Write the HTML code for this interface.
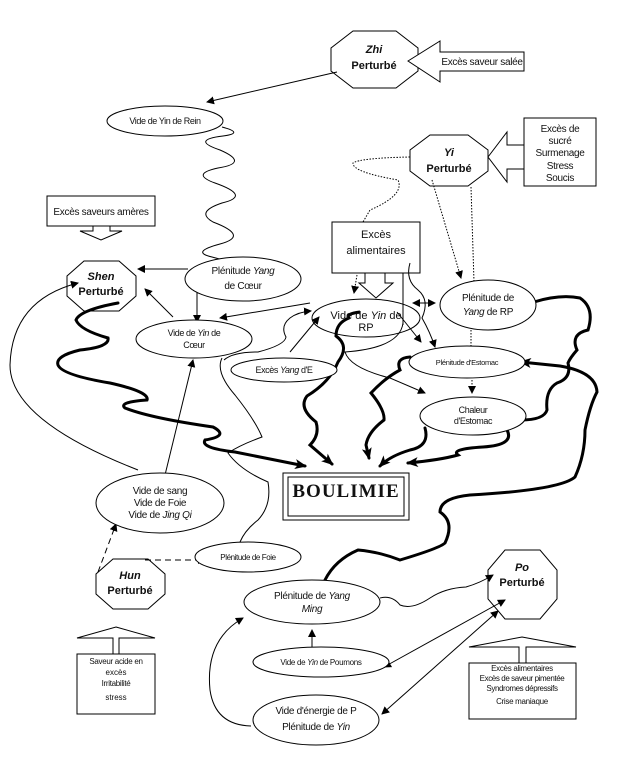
<!DOCTYPE html>
<html><head><meta charset="utf-8"><style>
html,body{margin:0;padding:0;background:#fff;}
svg{display:block;}
text{font-family:"Liberation Sans",sans-serif;fill:#111;}
.s{font-size:9px;letter-spacing:-0.4px;}
.m{font-size:10px;letter-spacing:-0.3px;}
.b{font-size:11px;font-weight:bold;}
</style></head><body>
<svg width="622" height="777" viewBox="0 0 622 777" xmlns="http://www.w3.org/2000/svg">
<defs>
<marker id="a" markerWidth="8" markerHeight="8" refX="7" refY="4" orient="auto" markerUnits="userSpaceOnUse"><path d="M0,0 L8,4 L0,8 Z" fill="#000"/></marker>
<marker id="as" markerWidth="8" markerHeight="8" refX="1" refY="4" orient="auto" markerUnits="userSpaceOnUse"><path d="M8,0 L0,4 L8,8 Z" fill="#000"/></marker>
<marker id="A" markerWidth="12" markerHeight="10" refX="10" refY="5" orient="auto" markerUnits="userSpaceOnUse"><path d="M0,0 L12,5 L0,10 L3,5 Z" fill="#000"/></marker>
</defs>
<g fill="#fff" stroke="#000" stroke-width="1">
<!-- octagons -->
<polygon points="353,31 396,31 418,48 418,71 396,88 353,88 331,71 331,48"/>
<polygon points="430,135 468,135 488,150 488,171 468,186 430,186 410,171 410,150"/>
<polygon points="84,261 119,261 136,276 136,296 119,311 84,311 67,296 67,276"/>
<polygon points="113,559 148,559 165,574 165,594 148,609 113,609 96,594 96,574"/>
<polygon points="505,550 540,550 557,570 557,599 540,619 505,619 488,599 488,570"/>
<!-- block arrows and boxes -->
<polygon points="408,61 440,41 440,52 524,52 524,71 440,71 440,82"/>
<rect x="524" y="118" width="72" height="68"/>
<polygon points="488,157 507,132 507,145 524,145 524,169 507,169 507,182"/>
<rect x="47" y="196" width="108" height="30"/>
<polygon points="93,226 110,226 110,231 122,231 101,240 80,231 93,231"/>
<rect x="332" y="222" width="88" height="51"/>
<polygon points="365,273 385,273 385,283 393,283 376,298 359,283 365,283"/>
<polygon points="116,627 155,638 119,638 119,654 113,654 113,638 77,638"/>
<rect x="77" y="654" width="78" height="60"/>
<polygon points="522,637 576,647 526,647 526,663 519,663 519,647 469,647"/>
<rect x="469" y="663" width="107" height="56"/>
<rect x="283" y="473" width="126" height="47"/>
<rect x="288" y="477" width="116" height="39"/>
</g>
<!-- thin connectors -->
<g fill="none" stroke="#000" stroke-width="1">
<line x1="337" y1="72" x2="207" y2="102" marker-end="url(#a)"/>
<path d="M222,127 Q245,133 223,136 Q190,140 220,150 Q250,163 218,168 Q190,174 215,183 Q252,196 222,203 Q195,212 213,222 Q250,236 220,244 Q190,252 212,257 L242,265" marker-end="url(#a)"/>
<line x1="188" y1="269" x2="138" y2="269" marker-end="url(#a)"/>
<line x1="173" y1="317" x2="145" y2="289" marker-end="url(#a)"/>
<line x1="197" y1="284" x2="197" y2="322" marker-start="url(#as)" marker-end="url(#a)"/>
<line x1="310" y1="303" x2="220" y2="318" marker-end="url(#a)"/>
<path d="M224,360 Q233,352 258,352 Q285,345 286,337 Q280,326 290,318 Q298,312 311,311" marker-end="url(#a)"/>
<path d="M222,358 Q215,372 235,395 Q255,420 262,437 Q240,445 228,453 Q240,470 268,482 Q272,505 258,520 Q245,530 240,542"/>
<path d="M138,470 Q10,420 10,365 Q12,300 78,283" marker-end="url(#a)"/>
<line x1="165" y1="475" x2="193" y2="360" marker-end="url(#a)"/>
<line x1="290" y1="352" x2="319" y2="317" marker-end="url(#a)"/>
<line x1="397" y1="312" x2="421" y2="342" marker-end="url(#a)"/>
<line x1="403" y1="273" x2="403" y2="325"/>
<path d="M403,323 Q400,348 345,352 Q350,368 390,378 L425,393" marker-end="url(#a)"/>
<path d="M410,263 Q405,280 418,290 Q430,300 422,318 Q430,332 435,347" marker-end="url(#a)"/>
<line x1="413" y1="303" x2="435" y2="303" marker-start="url(#as)" marker-end="url(#a)"/>
<line x1="312" y1="651" x2="312" y2="630" marker-end="url(#a)"/>
<path d="M251,726 Q215,725 210,690 Q205,640 243,618" marker-end="url(#a)"/>
<path d="M380,598 Q392,595 400,605 Q412,610 430,598 Q445,588 466,587 Q480,583 493,575" marker-end="url(#a)"/>
<line x1="505" y1="600" x2="384" y2="667" marker-start="url(#as)" marker-end="url(#a)"/>
<line x1="498" y1="611" x2="382" y2="714" marker-start="url(#as)" marker-end="url(#a)"/>
</g>
<g fill="none" stroke="#000" stroke-width="1" stroke-dasharray="1.5,1.5">
<path d="M410,157 Q360,158 353,163 Q352,172 398,180 Q405,195 370,210 L363,222"/>
<line x1="432" y1="180" x2="461" y2="278" marker-end="url(#a)"/>
<line x1="471" y1="187" x2="474" y2="282"/>
<line x1="357" y1="275" x2="354" y2="293" marker-end="url(#a)"/>
<line x1="471" y1="330" x2="471" y2="348"/>
<line x1="472" y1="380" x2="472" y2="393" marker-end="url(#a)"/>
</g>
<g fill="none" stroke="#000" stroke-width="1" stroke-dasharray="6,4">
<line x1="98" y1="572" x2="116" y2="524" marker-end="url(#a)"/>
<line x1="145" y1="560" x2="205" y2="560" marker-end="url(#a)"/>
</g>
<!-- thick wavy -->
<g fill="none" stroke="#000" stroke-width="3" stroke-linecap="round">
<path d="M118,303 Q80,310 76,320 Q80,330 108,338 Q110,347 80,350 Q55,356 58,365 Q62,375 110,383 Q150,392 147,400 Q118,402 125,408 Q150,418 213,427 Q230,436 205,440 Q200,448 235,452 L305,466" marker-end="url(#A)"/>
<path d="M349,318 Q336,323 336,336 Q350,346 338,362 Q330,382 307,396 Q298,408 316,422 Q320,435 310,445 L332,464" marker-end="url(#A)"/>
<path d="M410,357 Q395,358 400,370 Q385,378 371,393 Q385,410 384,420 Q368,432 366,445 L369,458" marker-end="url(#A)"/>
<path d="M425,428 Q430,446 410,450 Q390,456 380,466" marker-end="url(#A)"/>
<path d="M507,430 Q515,445 483,447 Q450,449 458,455 Q440,460 408,463" marker-end="url(#A)"/>
<path d="M534,302 Q560,294 580,298 Q595,308 588,330 Q570,334 577,350 Q570,358 568,363 Q572,378 557,383 Q545,390 547,410 Q544,420 521,420"/>
<path d="M325,580 Q335,560 358,550 Q380,552 400,560 Q440,548 445,543 Q455,522 440,512 Q440,498 470,495 Q560,490 575,477 Q585,455 585,430 Q590,405 597,392 Q596,372 560,366 L521,362" marker-end="url(#A)"/>
</g>
<!-- ellipses -->
<g fill="#fff" stroke="#000" stroke-width="1">
<ellipse cx="165" cy="121" rx="58" ry="15"/>
<ellipse cx="243" cy="279" rx="58" ry="22"/>
<ellipse cx="194" cy="339" rx="58" ry="19"/>
<ellipse cx="488" cy="305" rx="48" ry="25"/>
<ellipse cx="467" cy="362" rx="58" ry="16"/>
<ellipse cx="284" cy="370" rx="53" ry="12"/>
<ellipse cx="473" cy="416" rx="53" ry="19"/>
<ellipse cx="160" cy="503" rx="64" ry="30"/>
<ellipse cx="248" cy="557" rx="53" ry="15"/>
<ellipse cx="312" cy="602" rx="68" ry="22"/>
<ellipse cx="321" cy="662" rx="68" ry="15"/>
<ellipse cx="316" cy="720" rx="63" ry="25"/>
</g>
<ellipse cx="366" cy="318" rx="54" ry="19" fill="none" stroke="#000"/>
<!-- thick start over ellipse RP -->
<path d="M360,312 Q345,314 349,318" fill="none" stroke="#000" stroke-width="3"/>
<!-- labels -->
<g text-anchor="middle">
<text x="374" y="53" class="b" font-style="italic">Zhi</text>
<text x="374" y="69" class="b">Perturbé</text>
<text x="482" y="65" class="m">Excès saveur salée</text>
<text x="449" y="156" class="b" font-style="italic">Yi</text>
<text x="449" y="172" class="b">Perturbé</text>
<text x="560" y="132" class="m">Excès de</text>
<text x="560" y="144" class="m">sucré</text>
<text x="560" y="156" class="m">Surmenage</text>
<text x="560" y="169" class="m">Stress</text>
<text x="560" y="181" class="m">Soucis</text>
<text x="165" y="124" class="s">Vide de Yin de Rein</text>
<text x="101" y="215" class="m">Excès saveurs amères</text>
<text x="101" y="280" class="b" font-style="italic">Shen</text>
<text x="101" y="295" class="b">Perturbé</text>
<text x="243" y="274" class="m">Plénitude <tspan font-style="italic">Yang</tspan></text>
<text x="243" y="289" class="m">de Cœur</text>
<text x="194" y="336" class="s">Vide de <tspan font-style="italic">Yin</tspan> de</text>
<text x="194" y="348" class="s">Cœur</text>
<text x="376" y="238" font-size="11">Excès</text>
<text x="376" y="254" font-size="11">alimentaires</text>
<text x="366" y="319" font-size="11">Vide de <tspan font-style="italic">Yin</tspan> de</text>
<text x="366" y="331" font-size="11">RP</text>
<text x="488" y="301" class="m">Plénitude de</text>
<text x="488" y="315" class="m"><tspan font-style="italic">Yang</tspan>  de RP</text>
<text x="467" y="365" font-size="7.5" letter-spacing="-0.3">Plénitude d'Estomac</text>
<text x="284" y="373" class="s">Excès <tspan font-style="italic">Yang</tspan> d'E</text>
<text x="473" y="413" class="s">Chaleur</text>
<text x="473" y="424" class="s">d'Estomac</text>
<text x="346" y="497" font-family="Liberation Serif, serif" font-weight="bold" font-size="19" letter-spacing="1" style="font-family:'Liberation Serif',serif">BOULIMIE</text>
<text x="160" y="494" class="m">Vide de sang</text>
<text x="160" y="506" class="m">Vide de Foie</text>
<text x="160" y="518" class="m">Vide de <tspan font-style="italic">Jing Qi</tspan></text>
<text x="248" y="560" font-size="8" letter-spacing="-0.4">Plénitude de Foie</text>
<text x="130" y="579" class="b" font-style="italic">Hun</text>
<text x="130" y="594" class="b">Perturbé</text>
<text x="116" y="664" font-size="8" letter-spacing="-0.3">Saveur acide en</text>
<text x="116" y="675" font-size="8">excès</text>
<text x="116" y="686" font-size="8" letter-spacing="-0.3">Irritabilité</text>
<text x="116" y="700" font-size="8">stress</text>
<text x="312" y="599" class="m">Plénitude de <tspan font-style="italic">Yang</tspan></text>
<text x="312" y="612" class="m" font-style="italic">Ming</text>
<text x="321" y="665" font-size="8" letter-spacing="-0.3">Vide de <tspan font-style="italic">Yin</tspan> de Poumons</text>
<text x="316" y="714" class="m">Vide d'énergie de P</text>
<text x="316" y="730" class="m">Plénitude de <tspan font-style="italic">Yin</tspan></text>
<text x="522" y="571" class="b" font-style="italic">Po</text>
<text x="522" y="586" class="b">Perturbé</text>
<text x="522" y="671" font-size="8" letter-spacing="-0.3">Excès alimentaires</text>
<text x="522" y="681" font-size="8" letter-spacing="-0.4">Excès de saveur pimentée</text>
<text x="522" y="691" font-size="8" letter-spacing="-0.4">Syndromes dépressifs</text>
<text x="522" y="704" font-size="8" letter-spacing="-0.3">Crise maniaque</text>
</g>
</svg>
</body></html>
